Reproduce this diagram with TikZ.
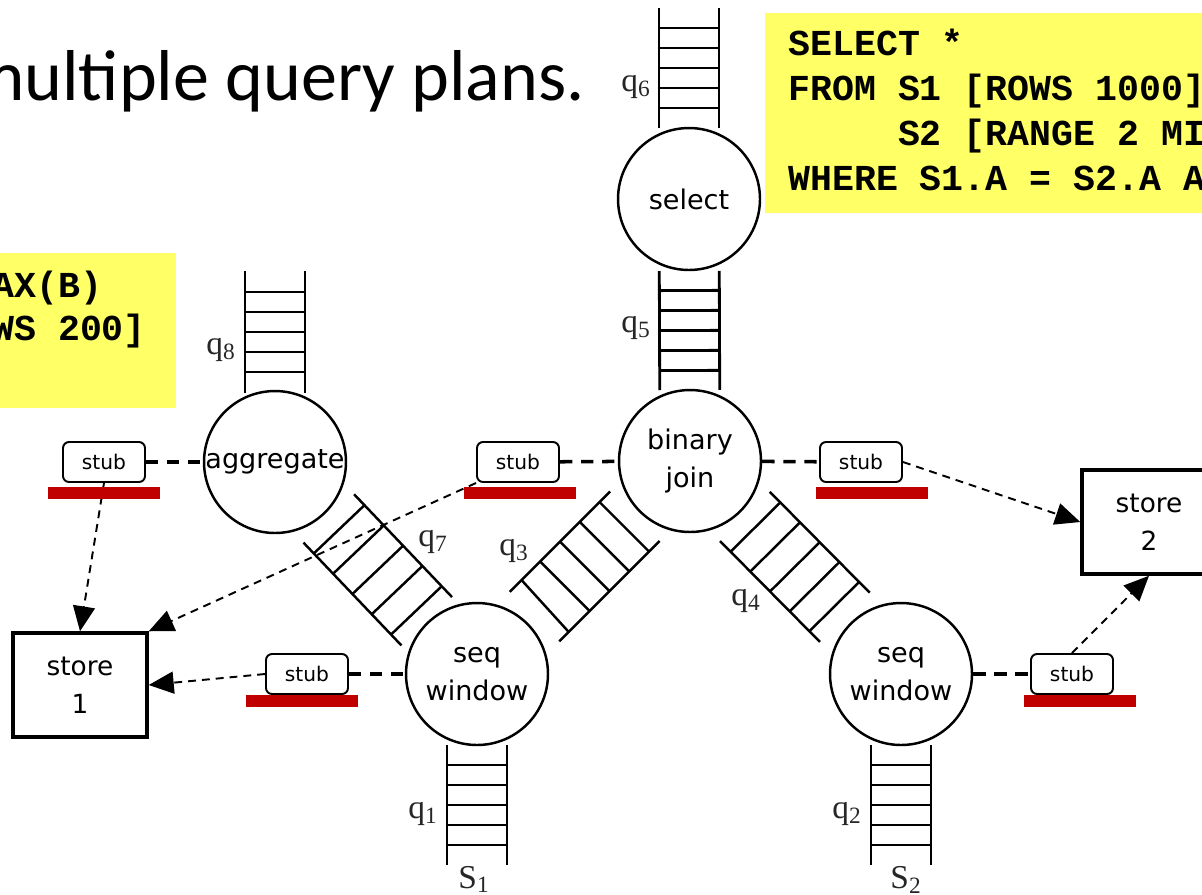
\documentclass[tikz,border=0pt]{standalone}
\usepackage{fontspec}
\usetikzlibrary{calc,arrows.meta}

\newfontfamily\titlefont{Carlito}
\newfontfamily\opfont{DejaVu Sans}
\newfontfamily\sqlfont{Liberation Mono}
\newfontfamily\qfont{Liberation Serif}

\definecolor{note}{RGB}{255,255,102}
\definecolor{barred}{RGB}{192,0,0}

\tikzset{
  op/.style={circle,draw,line width=1.4pt,minimum size=2.84cm,inner sep=0pt},
  optext/.style={font=\opfont\fontsize{15.4}{21.5}\selectfont,align=center,inner sep=0pt},
  store/.style={rectangle,draw,line width=2pt,minimum width=2.68cm,minimum height=2.08cm,
    align=center,inner sep=0pt,font=\opfont\fontsize{15}{21.5}\selectfont},
  stub/.style={rectangle,rounded corners=0.12cm,draw,line width=1.1pt,minimum width=1.64cm,
    minimum height=0.8cm,inner sep=0pt,font=\opfont\fontsize{11.5}{14}\selectfont},
  bar/.style={fill=barred,minimum width=2.24cm,minimum height=0.24cm,inner sep=0pt},
  link/.style={line width=2pt,dash pattern=on 7pt off 5pt},
  feed/.style={line width=1.1pt,dash pattern=on 4.5pt off 3.4pt,-{Triangle[length=0.5cm,width=0.44cm]}},
  ladder/.style={line width=1.4pt},
  qlabel/.style={font=\qfont\fontsize{19}{22}\selectfont,inner sep=0pt,text=black!85},
  sql/.style={font=\sqlfont\bfseries\fontsize{20.8}{25.6}\selectfont,anchor=base west,inner sep=0pt},
  heading/.style={font=\titlefont\fontsize{41}{49}\selectfont,anchor=base east,inner sep=0pt},
}

% queue drawn as a ladder on the axis #2 -> #3
% #4 gap from #2, #5 length, #6 half width, #7 rung step
\newcommand\queue[7][]{%
  \coordinate (qs) at ($(#2)!#4!(#3)$);
  \coordinate (qe) at ($(#2)!#4+#5!(#3)$);
  \coordinate (qm) at ($(qs)!.5!(qe)$);
  \draw[ladder,#1] ($(qs)!#6!90:(#3)$) -- ($(qe)!#6!90:(#3)$)
    ($(qs)!#6!-90:(#3)$) -- ($(qe)!#6!-90:(#3)$);
  \foreach \k in {-2,...,2}{
    \coordinate (qk) at ($(qm)!\k*#7!(#3)$);
    \draw[ladder,#1] ($(qk)!#6!90:(#3)$) -- ($(qk)!#6!-90:(#3)$);
  }%
}

\begin{document}
\begin{tikzpicture}[x=0.02cm,y=-0.02cm]
\useasboundingbox (0,0) rectangle (1202,894);
\clip (0,0) rectangle (1202,894);

% query notes
\fill[note] (765,13) rectangle (1220,213);
\fill[note] (-10,253) rectangle (176,408);
\foreach \y/\t [count=\i] in {55/{SELECT *},100/{FROM S1 [ROWS 1000]},
    145/{\phantom{FROM }S2 [RANGE 2 MI},190/{WHERE S1.A = S2.A A}}
  \node[sql] (sql\i) at (788,\y) {\t};
\node[sql] (sqlL1) at (-8,297) {AX(B)};
\node[sql] (sqlL2) at (-8,340) {WS 200]};

\node[heading] (title) at (585,100) {multiple query plans.};

% operators
\node[op,label={[optext]center:select}] (select) at (689,199) {};
\node[op,label={[optext]center:binary\\join}] (join) at (690,461) {};
\node[op,label={[optext]center:aggregate}] (agg) at (275,462) {};
\node[op,label={[optext]center:seq\\window}] (seqL) at (477,674) {};
\node[op,label={[optext]center:seq\\window}] (seqR) at (901,674) {};

\node[store] (store1) at (80,685) {store\\1};
\node[store] (store2) at (1149,522) {store\\2};

\node[stub] (stA) at (104,462) {stub};
\node[stub] (stB) at (518,462) {stub};
\node[stub] (stC) at (861,462) {stub};
\node[stub] (stD) at (307,674) {stub};
\node[stub] (stE) at (1072,674) {stub};

% queues
\coordinate (up6) at (689,-500);
\coordinate (up8) at (275,-500);
\coordinate (in1) at (477,1500);
\coordinate (in2) at (901,1500);
\queue[line width=1.6pt]{select}{up6}{1.42cm}{2.4cm}{0.6cm}{0.4cm}
\queue[line width=1.6pt]{select}{join}{1.44cm}{2.38cm}{0.6cm}{0.4cm}
\queue[line width=1.6pt]{agg}{up8}{1.38cm}{2.44cm}{0.6cm}{0.4cm}
\queue[line width=1.6pt]{seqL}{in1}{1.42cm}{2.4cm}{0.6cm}{0.4cm}
\queue[line width=1.6pt]{seqR}{in2}{1.42cm}{2.4cm}{0.6cm}{0.4cm}
\queue{agg}{seqL}{1.56cm}{2.84cm}{0.7cm}{0.56cm}
\queue{join}{seqL}{1.56cm}{2.84cm}{0.7cm}{0.56cm}
\queue{join}{seqR}{1.56cm}{2.84cm}{0.7cm}{0.56cm}

\node[qlabel] (q6) at (636,87) {q\textsubscript{6}};
\node[qlabel] (q5) at (636,328) {q\textsubscript{5}};
\node[qlabel] (q8) at (221,350) {q\textsubscript{8}};
\node[qlabel] (q7) at (433,542) {q\textsubscript{7}};
\node[qlabel] (q3) at (514,551) {q\textsubscript{3}};
\node[qlabel] (q4) at (746,601) {q\textsubscript{4}};
\node[qlabel] (q1) at (423,814) {q\textsubscript{1}};
\node[qlabel] (q2) at (847,814) {q\textsubscript{2}};
\node[qlabel,anchor=base] (s1) at (474,888) {S\textsubscript{1}};
\node[qlabel,anchor=base] (s2) at (906,888) {S\textsubscript{2}};

% stubs hang off the operators
\draw[link] (stA) -- (agg);
\draw[link] (stB) -- (join);
\draw[link] (join) -- (stC);
\draw[link] (stD) -- (seqL);
\draw[link] (seqR) -- (stE);

\draw[feed] (stA.south) -- (store1.north);
\draw[feed] (stB.south west) -- (store1.north east);
\draw[feed] (stD.west) -- (store1.east);
\draw[feed] (stC.east) -- (store2.west);
\draw[feed] (stE.north) -- (store2.south);

\node[bar] (barA) at (104,493) {};
\node[bar] (barB) at (520,493) {};
\node[bar] (barC) at (872,493) {};
\node[bar] (barD) at (302,701) {};
\node[bar] (barE) at (1080,701) {};
\end{tikzpicture}
\end{document}
